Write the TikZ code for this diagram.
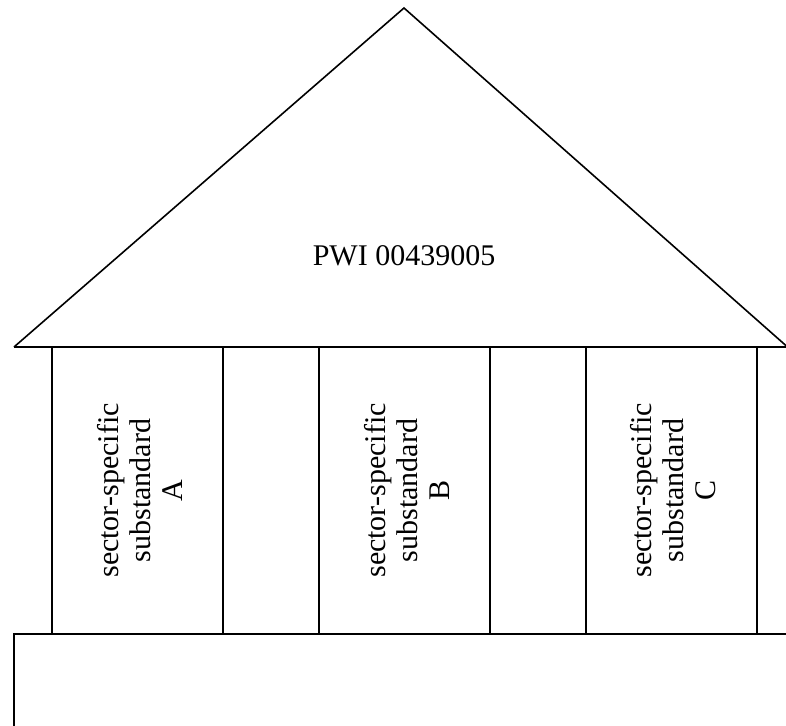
\documentclass[tikz,border=0pt]{standalone}
\usepackage{fontspec}
\setmainfont{Liberation Serif}
\begin{document}
\begin{tikzpicture}[x=1pt,y=-1pt,
  wall/.style={line width=1.6pt},
  pillartext/.style={rotate=90,align=center,font=\fontsize{30}{32}\selectfont},
  rooftext/.style={font=\fontsize{30}{32}\selectfont}]
\useasboundingbox (0,0) rectangle (786,725);
\begin{scope}
\clip (0,0) rectangle (786,725);
% roof
\coordinate (eaveL) at (14,347);
\coordinate (eaveR) at (800,347);
\coordinate (apex) at (404,8);
\draw[wall] (eaveL) -- (apex) -- (800,358) ;
\draw[wall] (eaveL) -- (eaveR);
% pillars
\foreach \x/\name in {52/pA, 319/pB, 586/pC}{
  \draw[wall] (\x,347) rectangle ++(171,287);
  \coordinate (\name) at (\x+85.5,490.5);
}
% foundation
\draw[wall] (14,740) -- (14,634) -- (800,634);
\end{scope}
\node[rooftext] (title) at (404,256) {PWI 00439005};
\foreach \name/\lab in {pA/A, pB/B, pC/C}
  \node[pillartext] (\name-t) at ([xshift=2pt]\name) {sector-specific\\substandard\\\lab};
\end{tikzpicture}
\end{document}
